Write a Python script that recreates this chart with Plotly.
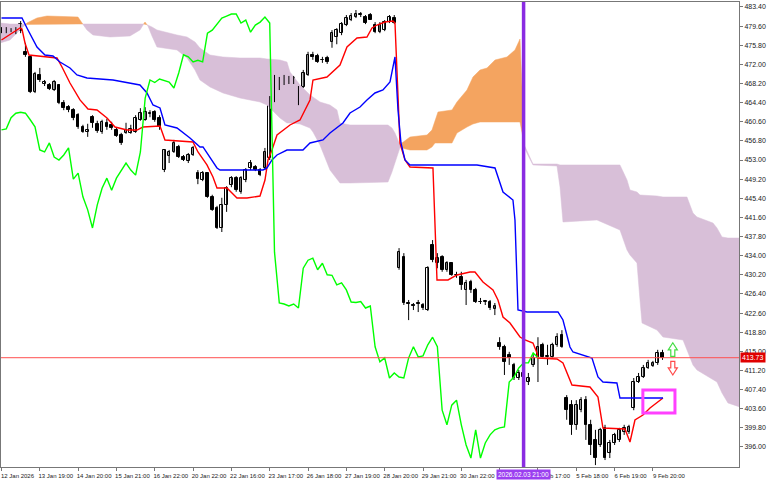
import plotly.graph_objects as go

# ---------------- data ----------------
bar_idx = list(range(139))

opens = [478.8, 478.6, 478.9, 478.2, 478.6, 474.5, 473.5, 466.5, 469.9, 468.1,
         467.9, 466.9, 467.9, 464.3, 463.5, 462.9, 461.9, 459.6, 458.6, 461.5,
         460.2, 458.6, 460.4, 460.0, 459.0, 458.0, 458.4, 458.4, 458.6, 461.0,
         461.0, 462.2, 462.5, 461.4, 451.0, 453.8, 454.6, 455.6, 453.6, 452.8,
         454.0, 450.4, 449.0, 450.4, 445.7, 443.5, 439.5, 444.1, 448.0, 449.4,
         446.7, 449.0, 451.4, 451.6, 451.0, 451.4, 453.4, 464.9, 468.5, 468.5,
         468.9, 469.3, 464.3, 467.5, 469.9, 473.9, 473.7, 472.9, 473.3, 476.4,
         477.4, 478.2, 479.8, 480.8, 481.4, 481.8, 481.4, 481.8, 479.8, 478.4,
         478.8, 480.4, 481.2, 431.6, 433.7, 424.6, 424.2, 424.6, 424.2, 423.2,
         436.1, 432.5, 433.7, 431.2, 432.5, 430.2, 429.8, 427.2, 428.8, 427.2,
         424.8, 424.8, 424.8, 423.4, 416.7, 415.9, 414.3, 412.3, 409.7, 410.7,
         408.9, 412.3, 413.7, 416.3, 413.9, 413.9, 416.3, 418.2, 405.7, 404.3,
         400.4, 403.3, 405.3, 400.4, 397.4, 396.4, 399.8, 394.8, 396.8, 397.4,
         399.0, 399.0, 403.7, 408.9, 409.9, 411.7, 412.1, 412.7, 414.7]
highs = [479.4, 479.4, 479.2, 479.4, 480.6, 476.3, 473.7, 470.5, 471.3, 468.9,
         468.3, 468.9, 468.1, 464.9, 463.9, 463.3, 462.3, 460.0, 460.2, 461.9,
         460.8, 461.0, 461.2, 460.6, 459.4, 458.4, 460.4, 460.0, 461.9, 463.3,
         463.5, 462.9, 462.9, 461.9, 455.0, 455.0, 457.0, 456.0, 454.0, 454.4,
         455.8, 451.0, 450.8, 450.6, 446.1, 443.9, 445.5, 447.8, 449.8, 449.8,
         449.8, 451.4, 453.0, 452.0, 451.4, 455.4, 465.7, 469.9, 469.5, 469.9,
         469.7, 469.7, 467.7, 470.9, 474.5, 474.5, 474.1, 473.5, 473.7, 478.8,
         479.2, 480.4, 481.8, 482.2, 482.8, 482.4, 481.8, 482.2, 480.4, 480.4,
         480.8, 481.8, 481.8, 435.5, 434.5, 425.2, 424.6, 425.2, 424.6, 431.9,
         437.1, 434.5, 434.1, 432.9, 432.7, 430.8, 430.8, 429.2, 429.2, 427.6,
         425.6, 425.2, 425.2, 424.6, 417.8, 416.3, 414.9, 412.7, 411.3, 411.7,
         410.7, 414.3, 417.8, 416.7, 416.3, 416.7, 418.6, 419.2, 406.3, 405.3,
         405.3, 405.9, 406.1, 401.4, 399.4, 399.8, 400.4, 397.4, 398.8, 399.8,
         400.4, 400.4, 409.7, 410.7, 412.3, 413.3, 413.1, 415.3, 415.3]
lows = [478.2, 478.2, 478.4, 478.0, 478.2, 473.5, 466.3, 466.3, 468.5, 467.7,
        466.9, 466.7, 464.1, 462.9, 462.5, 460.9, 459.2, 458.4, 457.6, 459.4,
        458.4, 458.2, 459.0, 459.0, 457.6, 456.0, 458.2, 458.2, 458.4, 460.8,
        460.8, 461.5, 460.6, 459.0, 450.6, 452.4, 454.4, 453.4, 452.8, 452.4,
        453.8, 448.2, 448.8, 445.5, 442.9, 439.3, 438.7, 442.7, 447.6, 446.7,
        446.3, 448.6, 451.0, 450.8, 449.8, 451.0, 453.0, 464.5, 466.9, 467.9,
        468.1, 468.1, 463.9, 467.3, 469.7, 472.9, 472.3, 472.3, 472.1, 475.3,
        476.0, 477.8, 479.6, 480.6, 481.2, 481.4, 480.0, 481.0, 478.2, 478.2,
        478.6, 480.2, 480.0, 431.2, 424.2, 421.2, 423.2, 422.8, 423.2, 423.0,
        432.7, 431.5, 430.8, 430.8, 430.0, 429.6, 427.2, 424.2, 426.6, 424.6,
        424.4, 424.2, 423.2, 422.2, 415.3, 410.3, 412.3, 409.3, 409.3, 409.3,
        408.3, 411.9, 408.9, 413.7, 412.3, 413.7, 415.9, 415.7, 401.4, 398.4,
        399.4, 402.9, 397.4, 394.4, 392.4, 396.0, 393.4, 393.8, 396.4, 397.0,
        398.4, 398.6, 403.3, 408.7, 409.7, 411.5, 411.9, 412.3, 413.3]
closes = [478.6, 479.0, 478.8, 479.0, 480.0, 473.9, 466.5, 470.1, 468.9, 468.5,
          467.1, 468.5, 464.3, 463.3, 462.9, 461.4, 459.6, 458.6, 459.0, 460.4,
          458.8, 460.6, 459.6, 459.4, 457.8, 456.4, 459.0, 459.2, 461.4, 462.3,
          462.5, 462.3, 461.0, 459.6, 455.0, 454.6, 456.4, 453.6, 453.0, 454.0,
          455.4, 449.2, 450.4, 445.7, 443.1, 439.5, 444.1, 447.4, 449.4, 447.0,
          449.4, 451.0, 452.4, 451.0, 450.0, 454.6, 465.3, 468.9, 468.4, 469.1,
          468.8, 468.5, 467.3, 470.3, 473.9, 473.5, 472.5, 472.8, 472.5, 478.2,
          478.8, 480.0, 481.2, 481.6, 482.0, 482.0, 480.2, 480.8, 478.4, 479.8,
          480.4, 481.4, 480.2, 434.7, 424.6, 424.4, 424.0, 424.4, 423.6, 431.5,
          433.1, 433.5, 431.2, 432.5, 430.2, 430.1, 428.2, 428.6, 427.2, 424.8,
          424.7, 424.9, 423.6, 424.0, 415.9, 412.9, 413.7, 409.7, 410.7, 409.9,
          409.7, 413.7, 415.9, 413.9, 414.1, 416.3, 417.8, 415.9, 403.3, 400.4,
          404.3, 405.3, 400.4, 396.4, 393.8, 399.4, 393.8, 396.8, 398.4, 399.4,
          399.8, 400.0, 408.9, 409.9, 411.7, 412.7, 412.7, 414.7, 413.73]

# Tenkan-sen (red) vertices: bar position, price
tenkan_x = [0, 3.86, 4.28, 4.91, 5.74, 10.13, 11.59, 12.63, 14.3, 16.39, 18.06, 19.94,
            22.03, 23.7, 26.2, 28.29, 29.54, 33.09, 34.13, 39.98, 41.02, 42.9, 44.15,
            44.99, 47.08, 49.16, 51.25, 53.97, 55.01, 55.64, 56.47, 57.52, 60.23,
            62.32, 64.41, 65.03, 67.95, 70.67, 72.13, 74.22, 76.3, 77.35, 78.39,
            80.06, 81.73, 82.15, 82.78, 83.19, 84.24, 85.28, 90.08, 90.5, 90.92,
            93.22, 95.09, 97.81, 98.85, 100.52, 102.61, 103.65, 104.7, 106.16,
            108.25, 109.29, 110.96, 111.8, 112.0, 115.97, 117.22, 119.1, 122.86,
            124.53, 125.57, 130.17, 131.21, 132.25, 133.92, 135.39, 138.1]
tenkan_y = [476.84, 479.23, 479.03, 476.25, 473.86, 473.47, 473.27, 471.48, 468.30,
            464.93, 463.14, 462.94, 461.35, 459.56, 458.96, 458.96, 459.56, 459.76,
            456.98, 456.58, 454.60, 452.02, 449.63, 447.44, 447.44, 445.46, 445.46,
            445.85, 449.03, 453.01, 454.99, 457.97, 459.96, 460.95, 464.93, 468.90,
            469.49, 471.88, 475.45, 477.24, 477.44, 479.23, 479.82, 480.42, 480.62,
            480.22, 464.93, 456.38, 453.01, 451.62, 451.42, 441.09, 429.17, 429.17,
            430.16, 430.76, 430.76, 428.77, 427.18, 425.19, 421.82, 420.63, 417.84,
            417.25, 416.65, 414.67, 413.67, 413.47, 412.68, 408.31, 407.91, 405.92,
            399.77, 399.57, 396.99, 401.35, 402.35, 403.74, 405.72]

# Kijun-sen (blue) vertices
kijun_x = [0, 4.28, 5.32, 7.41, 9.08, 10.75, 12.21, 14.3, 15.76, 17.85, 23.28, 28.91,
           30.38, 31.63, 33.09, 34.13, 36.64, 39.35, 41.44, 42.07, 44.99, 45.62, 54.59,
           55.43, 56.47, 57.52, 59.6, 62.94, 64.41, 67.12, 68.58, 71.29, 72.76, 74.85,
           76.3, 77.97, 79.64, 81.11, 82.15, 82.78, 83.4, 84.24, 85.28, 99.27, 103.03,
           104.7, 106.78, 107.2, 107.83, 109.71, 116.18, 117.22, 118.68, 119.31,
           123.28, 124.53, 125.57, 128.48, 129.12, 138.1]
kijun_y = [481.21, 481.21, 479.23, 475.45, 473.86, 473.67, 472.47, 471.28, 469.89,
           469.30, 468.90, 467.90, 466.32, 463.93, 463.34, 459.96, 459.36, 457.37,
           455.59, 455.59, 451.42, 451.02, 451.02, 451.42, 453.01, 454.00, 454.99,
           454.99, 456.38, 456.98, 458.37, 460.35, 462.34, 463.53, 464.93, 466.32,
           466.91, 468.50, 473.47, 462.94, 456.38, 453.01, 452.02, 452.02, 451.42,
           446.65, 445.06, 441.09, 423.21, 422.81, 422.81, 421.22, 415.86, 414.86,
           413.67, 409.90, 408.91, 408.71, 405.72, 405.72]

# Senkou span A / B (cloud) vertices
cloud_x = [-0.3, 1.77, 3.86, 5.32, 7.41, 9.5, 15.97, 16.81, 17.85, 19.1, 22.65, 26.83,
           28.91, 29.96, 30.58, 31.42, 32.46, 36.64, 38.73, 40.4, 41.44, 43.53, 46.24,
           49.79, 53.97, 55.43, 58.14, 59.6, 60.23, 62.32, 64.41, 65.03, 66.49, 68.58,
           70.04, 70.67, 72.76, 80.69, 81.52, 82.15, 83.19, 83.61, 85.28, 88.83, 89.87,
           90.5, 91.13, 94.05, 95.09, 97.18, 98.43, 99.9, 101.36, 103.03, 105.53,
           107.2, 108.25, 109.2, 110.1, 110.96, 115.97, 116.6, 117.22, 124.32, 129.12,
           130.59, 131.21, 132.67, 133.3, 133.72, 136.85, 138.1, 142.28, 143.11,
           144.36, 145.2, 148.54, 149.37, 150.42, 151.67, 154.18]
span_a = [476.25, 476.84, 478.83, 480.22, 481.21, 481.61, 481.41, 480.22, 478.83, 477.84,
          477.44, 477.64, 478.83, 480.42, 479.62, 477.64, 475.45, 474.86, 473.27, 470.88,
          468.90, 467.51, 466.32, 465.32, 464.53, 463.93, 461.35, 460.35, 460.35, 460.16,
          459.36, 458.57, 455.99, 451.02, 449.03, 448.43, 448.43, 448.63, 450.62, 452.41,
          455.59, 456.38, 457.57, 457.97, 458.96, 460.95, 462.54, 462.94, 464.53, 466.91,
          469.49, 470.88, 471.28, 472.87, 473.47, 474.86, 477.04, 455.39, 453.60, 452.02,
          451.82, 447.64, 440.69, 441.09, 439.10, 435.13, 434.13, 432.54, 425.19, 420.63,
          419.23, 417.84, 417.25, 415.26, 412.28, 411.29, 409.30, 408.91, 406.72, 404.73,
          403.94]
span_b = [480.22, 480.02, 480.02, 479.92, 480.02, 480.02, 480.02, 480.02, 480.02, 480.02,
          480.02, 480.02, 480.02, 480.02, 479.82, 479.43, 478.83, 477.84, 477.44, 476.45,
          475.25, 473.86, 473.47, 473.27, 473.27, 473.07, 472.87, 472.47, 470.49, 467.90,
          465.92, 465.52, 464.53, 463.93, 462.94, 460.35, 459.96, 459.96, 459.36, 458.37,
          455.99, 455.39, 454.99, 454.99, 455.59, 456.38, 456.38, 456.38, 458.37, 459.56,
          460.16, 460.55, 460.55, 460.55, 460.55, 460.55, 460.55, 455.79, 454.00, 452.21,
          452.21, 452.02, 452.02, 452.02, 452.02, 449.03, 447.05, 446.65, 446.05, 446.05,
          445.85, 445.66, 445.66, 445.66, 442.48, 441.68, 440.49, 439.50, 437.71, 437.51,
          437.51]

x_tick_idx = [0, 8, 16, 24, 32, 40, 48, 56, 64, 72, 80, 88, 96, 104, 112, 120, 128, 136]
x_tick_text = ["12 Jan 2026", "13 Jan 19:00", "14 Jan 20:00", "15 Jan 21:00",
               "16 Jan 22:00", "20 Jan 22:00", "22 Jan 16:00", "23 Jan 17:00",
               "26 Jan 18:00", "27 Jan 19:00", "28 Jan 20:00", "29 Jan 21:00",
               "30 Jan 22:00", "", "4 Feb 17:00", "5 Feb 18:00",
               "6 Feb 19:00", "9 Feb 20:00"]
y_tick_vals = [396.0, 399.8, 403.6, 407.4, 411.2, 415.0, 418.8, 422.6, 426.4, 430.2,
               434.0, 437.8, 441.6, 445.4, 449.2, 453.0, 456.8, 460.6, 464.4, 468.2,
               472.0, 475.8, 479.6, 483.4]

chikou_shift = 26
last_price = 413.73
marker_bar = 109
marker_label = "2026.02.03 21:00"

# ---------------- figure ----------------
FONT = "Liberation Sans"
fig = go.Figure()

# cloud polygons split where span A crosses span B
runs = []
cur = None
sx, sa, sb = [], [], []
for k in range(len(cloud_x)):
    up = span_a[k] >= span_b[k]
    if cur is None:
        cur = up
    elif up != cur:
        d0 = span_a[k - 1] - span_b[k - 1]
        d1 = span_a[k] - span_b[k]
        t = d0 / (d0 - d1)
        xc = cloud_x[k - 1] + t * (cloud_x[k] - cloud_x[k - 1])
        yc = span_a[k - 1] + t * (span_a[k] - span_a[k - 1])
        sx.append(xc); sa.append(yc); sb.append(yc)
        runs.append((cur, sx, sa, sb))
        sx, sa, sb = [xc], [yc], [yc]
        cur = up
    sx.append(cloud_x[k]); sa.append(span_a[k]); sb.append(span_b[k])
runs.append((cur, sx, sa, sb))

for up, rx, ra, rb in runs:
    fig.add_trace(go.Scatter(
        x=rx + rx[::-1], y=ra + rb[::-1], fill="toself", mode="lines",
        line=dict(width=0.5, color="#F4A460" if up else "#D8BFD8"),
        fillcolor="#F4A460" if up else "#D8BFD8",
        hoverinfo="skip", showlegend=False))

# wicks
wx, wy = [], []
for i in bar_idx:
    wx += [i, i, None]
    wy += [lows[i], highs[i], None]
fig.add_trace(go.Scatter(x=wx, y=wy, mode="lines", line=dict(color="#000000", width=1),
                         hoverinfo="skip", showlegend=False))

# bodies
for bull in (True, False):
    bx, bbase, bh = [], [], []
    for i in bar_idx:
        if (closes[i] >= opens[i]) == bull:
            lo = min(opens[i], closes[i])
            hi = max(opens[i], closes[i])
            bx.append(i)
            bbase.append(lo)
            bh.append(max(hi - lo, 0.08))
    fig.add_trace(go.Bar(
        x=bx, y=bh, base=bbase, width=0.56,
        marker=dict(color="#FFFFFF" if bull else "#000000",
                    line=dict(color="#000000", width=1)),
        hoverinfo="skip", showlegend=False))

# tenkan, kijun, chikou
fig.add_trace(go.Scatter(x=tenkan_x, y=tenkan_y, mode="lines",
                         line=dict(color="#FF0000", width=1.4),
                         hoverinfo="skip", showlegend=False))
fig.add_trace(go.Scatter(x=kijun_x, y=kijun_y, mode="lines",
                         line=dict(color="#0000FF", width=1.4),
                         hoverinfo="skip", showlegend=False))
fig.add_trace(go.Scatter(x=[i - chikou_shift for i in bar_idx[chikou_shift:]],
                         y=closes[chikou_shift:], mode="lines",
                         line=dict(color="#00FF00", width=1.4),
                         hoverinfo="skip", showlegend=False))


def arrow_path(cx, tip, base, end, head_hw, shaft_hw):
    # outline block arrow: tip -> head base -> shaft end (vertical, in data units)
    pts = [(cx, tip), (cx + head_hw, base), (cx + shaft_hw, base), (cx + shaft_hw, end),
           (cx - shaft_hw, end), (cx - shaft_hw, base), (cx - head_hw, base)]
    return "M " + " L ".join("%.3f,%.3f" % p for p in pts) + " Z"


arrow_x = 140.15
shapes = [
    dict(type="line", xref="paper", x0=0, x1=1, yref="y", y0=last_price, y1=last_price,
         line=dict(color="#FF5050", width=1), layer="above"),
    dict(type="line", xref="x", x0=marker_bar, x1=marker_bar, yref="paper", y0=0, y1=1,
         line=dict(color="#8A2BE2", width=3.5), layer="above"),
    dict(type="rect", xref="x", x0=133.9, x1=140.6, yref="y", y0=402.75, y1=407.31,
         line=dict(color="#FF40FF", width=3), layer="above"),
    dict(type="path", xref="x", yref="y",
         path=arrow_path(arrow_x, 416.7, 415.3, 414.0, 0.95, 0.42),
         fillcolor="#FFFFFF", line=dict(color="#44DD44", width=1.2), layer="above"),
    dict(type="path", xref="x", yref="y",
         path=arrow_path(arrow_x, 410.3, 411.7, 413.0, 0.95, 0.42),
         fillcolor="#FFFFFF", line=dict(color="#FF4A4A", width=1.2), layer="above"),
]

annotations = [
    dict(xref="paper", x=1, xanchor="left", yref="y", y=last_price, yanchor="middle",
         text="413.73", showarrow=False, bgcolor="#E00000", borderpad=1,
         font=dict(family=FONT, size=7, color="#FFFFFF"), xshift=1),
    dict(xref="x", x=marker_bar, xanchor="center", yref="paper", y=0, yanchor="top",
         yshift=-2, text=marker_label, showarrow=False, bgcolor="#9B3FF0", borderpad=1,
         font=dict(family=FONT, size=6.5, color="#FFFFFF")),
]

fig.update_layout(
    width=768, height=480,
    margin=dict(l=1, r=29, t=2, b=13),
    paper_bgcolor="#FFFFFF", plot_bgcolor="#FFFFFF",
    barmode="overlay", bargap=0,
    showlegend=False,
    shapes=shapes, annotations=annotations,
    xaxis=dict(range=[-0.1, 153.97], tickmode="array", tickvals=x_tick_idx,
               ticktext=x_tick_text, showgrid=False, zeroline=False,
               showline=True, mirror=True, linecolor="#777777", linewidth=1,
               ticks="outside", ticklen=3, tickcolor="#777777",
               tickfont=dict(family=FONT, size=6, color="#222222"),
               ticklabelshift=16, ticklabelstandoff=0, fixedrange=True),
    yaxis=dict(range=[392.02, 484.39], side="right", tickmode="array",
               tickvals=y_tick_vals, ticktext=["%.2f" % v for v in y_tick_vals],
               showgrid=False, zeroline=False,
               showline=True, mirror=True, linecolor="#777777", linewidth=1,
               ticks="outside", ticklen=3, tickcolor="#777777",
               tickfont=dict(family=FONT, size=7, color="#222222"), fixedrange=True),
)

fig.write_html("out.html", config={"displayModeBar": False},
               post_script="document.body.style.margin='0';document.body.style.overflow='hidden';")
